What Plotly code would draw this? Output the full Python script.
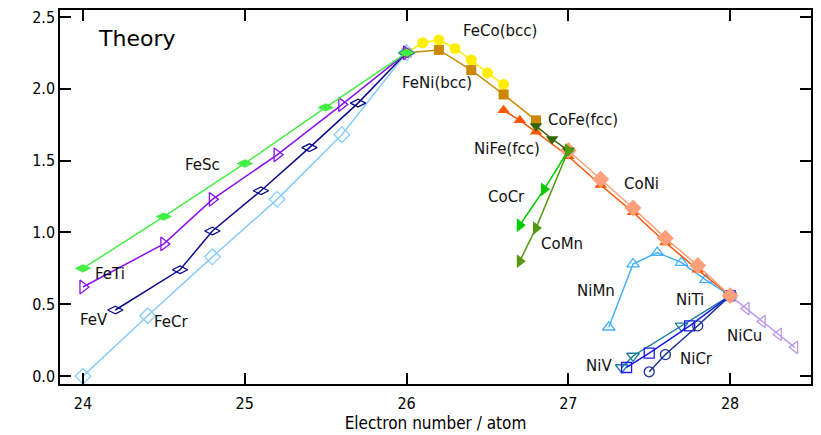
import plotly.graph_objects as go

# ---- data (electron number / atom, value) ----
fesc_x = [24.0, 24.5, 25.0, 25.5, 26.0]
fesc_y = [0.75, 1.11, 1.48, 1.87, 2.25]

feti_x = [24.0, 24.5, 24.8, 25.2, 25.6, 26.0]
feti_y = [0.62, 0.92, 1.23, 1.54, 1.89, 2.25]

fev_x = [24.2, 24.6, 24.8, 25.1, 25.4, 25.7, 26.0]
fev_y = [0.46, 0.74, 1.01, 1.29, 1.59, 1.90, 2.25]

fecr_x = [24.0, 24.4, 24.8, 25.2, 25.6, 26.0]
fecr_y = [0.00, 0.42, 0.83, 1.23, 1.68, 2.25]

feco_x = [26.0, 26.1, 26.2, 26.3, 26.4, 26.5, 26.6]
feco_y = [2.25, 2.32, 2.34, 2.28, 2.20, 2.11, 2.03]

feni_x = [26.0, 26.2, 26.4, 26.6, 26.8]
feni_y = [2.25, 2.27, 2.13, 1.96, 1.78]

cofe_x = [26.8, 26.9, 27.0]
cofe_y = [1.74, 1.65, 1.57]

nife_x = [26.6, 26.7, 26.8, 27.0, 27.2, 27.4, 27.6, 27.8, 28.0]
nife_y = [1.85, 1.78, 1.70, 1.53, 1.33, 1.14, 0.93, 0.74, 0.56]

coni_x = [27.0, 27.2, 27.4, 27.6, 27.8, 28.0]
coni_y = [1.57, 1.37, 1.17, 0.96, 0.77, 0.56]

cocr_x = [27.0, 26.85, 26.7]
cocr_y = [1.57, 1.30, 1.05]

comn_x = [27.0, 26.8, 26.7]
comn_y = [1.57, 1.03, 0.80]

nimn_x = [28.0, 27.85, 27.7, 27.55, 27.4, 27.25]
nimn_y = [0.56, 0.67, 0.79, 0.86, 0.78, 0.34]

niti_x = [28.0, 27.7, 27.4, 27.33]
niti_y = [0.56, 0.35, 0.14, 0.06]

niv_x = [28.0, 27.75, 27.5, 27.36]
niv_y = [0.56, 0.35, 0.16, 0.06]

nicr_x = [28.0, 27.8, 27.6, 27.5]
nicr_y = [0.56, 0.35, 0.15, 0.03]

nicu_x = [28.0, 28.1, 28.2, 28.3, 28.4]
nicu_y = [0.56, 0.47, 0.38, 0.29, 0.20]

x_ticks = [24, 25, 26, 27, 28]
y_ticks = [0.0, 0.5, 1.0, 1.5, 2.0, 2.5]

labels = [
    ("FeSc", 24.74, 1.47), ("FeTi", 24.17, 0.71), ("FeV", 24.07, 0.39),
    ("FeCr", 24.55, 0.38), ("FeCo(bcc)", 26.58, 2.40), ("FeNi(bcc)", 26.19, 2.04),
    ("CoFe(fcc)", 27.09, 1.78), ("NiFe(fcc)", 26.62, 1.58), ("CoCr", 26.62, 1.25),
    ("CoMn", 26.96, 0.92), ("CoNi", 27.45, 1.34), ("NiMn", 27.17, 0.59),
    ("NiTi", 27.75, 0.53), ("NiCr", 27.79, 0.12), ("NiV", 27.19, 0.07),
    ("NiCu", 28.09, 0.28),
]

fig = go.Figure()

def add(x, y, color, symbol, size, lw=1.5, mline=None):
    marker = dict(color=color, symbol=symbol, size=size)
    if mline is not None:
        marker["line"] = dict(color=color, width=mline)
    fig.add_trace(go.Scatter(x=x, y=y, mode="lines+markers",
                             line=dict(color=color, width=lw),
                             marker=marker, showlegend=False, hoverinfo="skip"))

# Ni-based dilute alloys
add(nimn_x, nimn_y, "#44b0ff", "triangle-up-open", 11, mline=1.3)
add(niti_x, niti_y, "#1f7f9f", "triangle-down-open", 11, mline=1.3)
add(niv_x, niv_y, "#1a1aee", "square-open", 10, mline=1.3)
add(nicr_x, nicr_y, "#1a3399", "circle-open", 10, mline=1.3)
add(nicu_x, nicu_y, "#bb99ee", "triangle-left-open", 11, mline=1.3)
# Fe-based
add(feco_x, feco_y, "#ffee00", "circle", 11)
add(feni_x, feni_y, "#cc8800", "square", 10)
add(fecr_x, fecr_y, "#88ccff", "diamond-open", 12, mline=1.3)
add(fev_x, fev_y, "#0a0a8a", "diamond-wide-open", 11, mline=1.3)
add(feti_x, feti_y, "#8811ee", "triangle-right-open", 12, mline=1.3)
add(fesc_x, fesc_y, "#44ee44", "diamond-wide", 12)
# fcc
add(nife_x, nife_y, "#ff5500", "triangle-up", 11)
add(coni_x, coni_y, "#ffa07a", "diamond", 13)
add(cofe_x, cofe_y, "#336600", "triangle-down", 11)
add(cocr_x, cocr_y, "#00cc00", "triangle-right", 12)
add(comn_x, comn_y, "#559911", "triangle-right", 12)

for text, x, y in labels:
    fig.add_annotation(x=x, y=y, text=text, showarrow=False,
                       font=dict(family="DejaVu Sans", size=15, color="#111111"))

fig.add_annotation(x=0.048, y=0.923, xref="paper", yref="paper", text="Theory",
                   showarrow=False, xanchor="left", yanchor="middle",
                   font=dict(family="DejaVu Sans", size=22, color="black"))

tickfont = dict(family="DejaVu Sans Condensed, DejaVu Sans", size=16, color="black")
axis_common = dict(showline=True, linecolor="black", linewidth=1.5, mirror="allticks",
                   ticks="inside", ticklen=11, tickwidth=1.5, tickcolor="black",
                   showgrid=False, zeroline=False, tickfont=tickfont)

fig.update_layout(
    width=821, height=435,
    margin=dict(l=60, r=8, t=9, b=48),
    plot_bgcolor="white", paper_bgcolor="white",
    xaxis=dict(range=[23.858, 28.5], tickvals=x_ticks, ticktext=[str(t) for t in x_ticks],
               ticklabelstandoff=4,
               title=dict(text="Electron number / atom", standoff=2,
                          font=dict(family="DejaVu Sans Condensed, DejaVu Sans", size=17,
                                    color="black")),
               **axis_common),
    yaxis=dict(range=[-0.055, 2.548], tickvals=y_ticks,
               ticktext=[f"{t:.1f}" for t in y_ticks], **axis_common),
)

fig.write_html("out.html", config={"displayModeBar": False},
               post_script="document.body.style.margin='0';")
